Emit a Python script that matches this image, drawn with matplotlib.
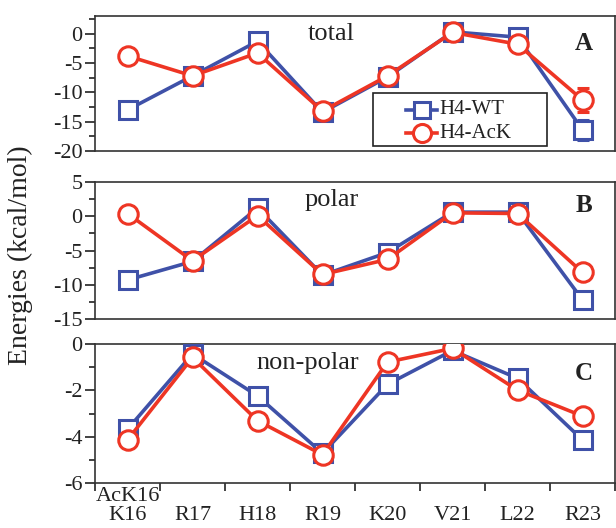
import matplotlib
matplotlib.use("Agg")
import matplotlib.pyplot as plt
from matplotlib.ticker import MultipleLocator, FixedLocator
from matplotlib.patches import Rectangle
from matplotlib.lines import Line2D
import numpy as np

plt.rcParams['font.family'] = ['Liberation Serif', 'DejaVu Serif']
plt.rcParams['axes.unicode_minus'] = False

residues = ["K16", "R17", "H18", "R19", "K20", "V21", "L22", "R23"]
tick_labels = ["AcK16\nK16", "\nR17", "\nH18", "\nR19", "\nK20", "\nV21", "\nL22", "\nR23"]

total_wt = [-13.0, -7.2, -1.3, -13.4, -7.4, 0.3, -0.6, -16.4]
total_ack = [-3.8, -7.2, -3.3, -13.2, -7.2, 0.2, -1.8, -11.3]
total_wt_err = [0.3, 0.3, 0.3, 0.4, 0.3, 0.3, 0.3, 1.7]
total_ack_err = [0.3, 0.3, 0.3, 0.4, 0.3, 0.3, 0.3, 2.0]

polar_wt = [-9.3, -6.6, 1.2, -8.6, -5.3, 0.6, 0.6, -12.2]
polar_ack = [0.4, -6.5, 0.1, -8.5, -6.3, 0.5, 0.4, -8.2]

nonpolar_wt = [-3.68, -0.43, -2.24, -4.72, -1.74, -0.28, -1.48, -4.14]
nonpolar_ack = [-4.14, -0.58, -3.31, -4.78, -0.78, -0.19, -1.99, -3.11]

series_names = ["H4-WT", "H4-AcK"]

blue = "#3F51A8"
red = "#EE3524"
ink = '#222222'

fig = plt.figure(figsize=(6.16, 5.28), dpi=100)
left, width = 95/616, 520/616
axA = fig.add_axes([left, 1-151/528, width, 135/528])
axB = fig.add_axes([left, 1-319/528, width, 137/528])
axC = fig.add_axes([left, 1-483/528, width, 139/528])

x = np.arange(len(residues))

def style(ax, ylim, major, minor):
    ax.set_xlim(-0.5, len(residues) - 0.5)
    ax.set_ylim(*ylim)
    ax.yaxis.set_major_locator(MultipleLocator(major))
    ax.yaxis.set_minor_locator(MultipleLocator(minor))
    ax.tick_params(axis='y', which='major', direction='out', length=7, width=1.2, labelsize=16, pad=2, colors=ink)
    ax.tick_params(axis='y', which='minor', direction='out', length=4, width=1.2, colors=ink)
    for s in ax.spines.values():
        s.set_linewidth(1.2)
        s.set_color('#333333')

wt_style = dict(color=blue, lw=2.6, marker='s', ms=13, mfc='white', mec=blue, mew=2.2)
ack_style = dict(color=red, lw=2.6, marker='o', ms=14, mfc='white', mec=red, mew=2.2)

def plot_pair(ax, wt, ack, wt_err=None, ack_err=None):
    ax.errorbar(x, wt, yerr=wt_err, capsize=4, elinewidth=1.5, zorder=3, **wt_style)
    ax.errorbar(x, ack, yerr=ack_err, capsize=4, elinewidth=1.5, zorder=4, **ack_style)

plot_pair(axA, total_wt, total_ack, total_wt_err, total_ack_err)
plot_pair(axB, polar_wt, polar_ack)
plot_pair(axC, nonpolar_wt, nonpolar_ack)

style(axA, (-20, 3), 5, 2.5)
style(axB, (-15, 5), 5, 2.5)
style(axC, (-6, 0), 2, 1)

for ax in (axA, axB):
    ax.set_xticks([])

axC.xaxis.set_major_locator(FixedLocator(np.arange(-0.5, len(residues), 1.0)))
axC.xaxis.set_major_formatter(plt.NullFormatter())
axC.set_xticks(x, minor=True)
axC.set_xticklabels(tick_labels, minor=True, fontsize=16, color=ink, linespacing=1.0)
axC.tick_params(axis='x', which='major', direction='out', length=6, width=1.2, colors=ink)
axC.tick_params(axis='x', which='minor', length=0, pad=3)

axA.text(0.454, 0.87, "total", transform=axA.transAxes, fontsize=19, ha='center', va='center', color=ink)
axB.text(0.456, 0.87, "polar", transform=axB.transAxes, fontsize=19, ha='center', va='center', color=ink)
axC.text(0.41, 0.86, "non-polar", transform=axC.transAxes, fontsize=19, ha='center', va='center', color=ink)

for ax, lab, yy in ((axA, "A", 0.80), (axB, "B", 0.83), (axC, "C", 0.79)):
    ax.text(0.94, yy, lab, transform=ax.transAxes, fontsize=18, fontweight='bold',
            ha='center', va='center', color=ink)

# legend box drawn by hand to match the wide padding of the original
axA.add_patch(Rectangle((0.535, 0.037), 0.334, 0.393, transform=axA.transAxes,
                        facecolor='white', edgecolor=ink, lw=1.2, zorder=6))
for row_y, name, st in ((0.304, series_names[0], wt_style), (0.133, series_names[1], ack_style)):
    axA.add_line(Line2D([0.598, 0.658], [row_y, row_y], transform=axA.transAxes,
                        zorder=7, color=st['color'], lw=st['lw']))
    axA.add_line(Line2D([0.628], [row_y], transform=axA.transAxes, zorder=8, linestyle='none',
                        marker=st['marker'], ms=st['ms'] - 1, mfc='white', mec=st['mec'], mew=st['mew']))
    axA.text(0.662, row_y, name, transform=axA.transAxes, fontsize=15, ha='left', va='center',
             color=ink, zorder=8)

fig.text(0.033, 1-255/528, "Energies (kcal/mol)", rotation=90, fontsize=20,
         ha='center', va='center', color=ink)

fig.savefig("out.png", dpi=100)
